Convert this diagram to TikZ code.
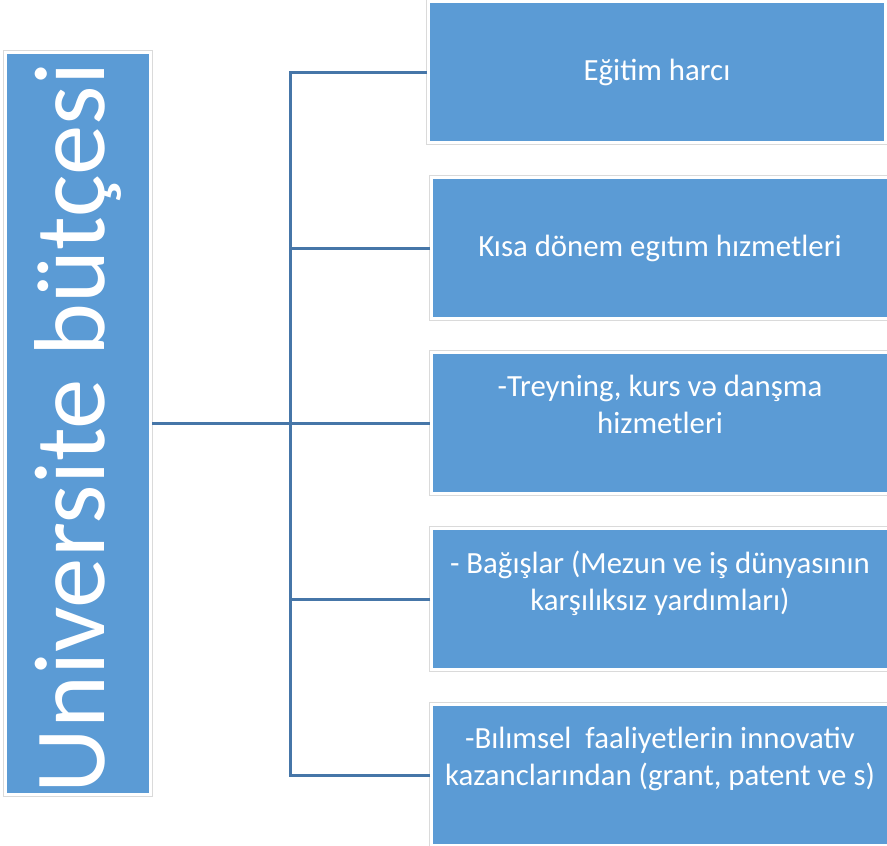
\documentclass[tikz,border=0pt]{standalone}
\usepackage{fontspec}
\setmainfont{Carlito}
\usetikzlibrary{positioning}
\definecolor{boxblue}{HTML}{5B9BD5}
\definecolor{linkblue}{HTML}{4676A8}
\definecolor{framegray}{HTML}{DADADA}

\begin{document}
\begin{tikzpicture}[x=1pt, y=-1pt, line width=3pt, item node/.style={rectangle,fill=boxblue,draw=white,line width=3pt,preaction={draw=framegray,line width=5pt},minimum width=457pt,minimum height=141pt,inner sep=0pt,text=white,align=center,font=\fontsize{30.8}{37}\selectfont}, title node/.style={item node,rotate=90,minimum width=742pt,minimum height=145pt,font=\fontsize{100.8}{121}\selectfont}]%
\clip (0,0) rectangle (887,846);
\begin{scope}
\node[title node] (title) at (78,423) {Universite bütçesi\hspace*{10pt}};
\node[item node] (item1) at (657,72) {Eğitim harcı};
\node[item node] (item2) at (660,248) {Kısa dönem egıtım hızmetleri};
\node[item node] (item3) at (660,423) {-Treyning, kurs və danşma\\hizmetleri\\\mbox{}};
\node[item node] (item4) at (660,599) {- Bağışlar (Mezun ve iş dünyasının\\karşılıksız yardımları)\\\mbox{}};
\node[item node] (item5) at (660,775) {-Bılımsel\ \ faaliyetlerin innovativ\\kazanclarından (grant, patent ve s)\\\mbox{}};
\coordinate (hub) at (290,423);
\end{scope}
\begin{scope}[draw=linkblue]
\draw (title) -- (item3);
\draw (item1.west) -| (hub);
\draw (item2.west) -| (hub);
\draw (item4.west) -| (hub);
\draw (item5.west) -| (hub);
\end{scope}
\end{tikzpicture}
\end{document}
